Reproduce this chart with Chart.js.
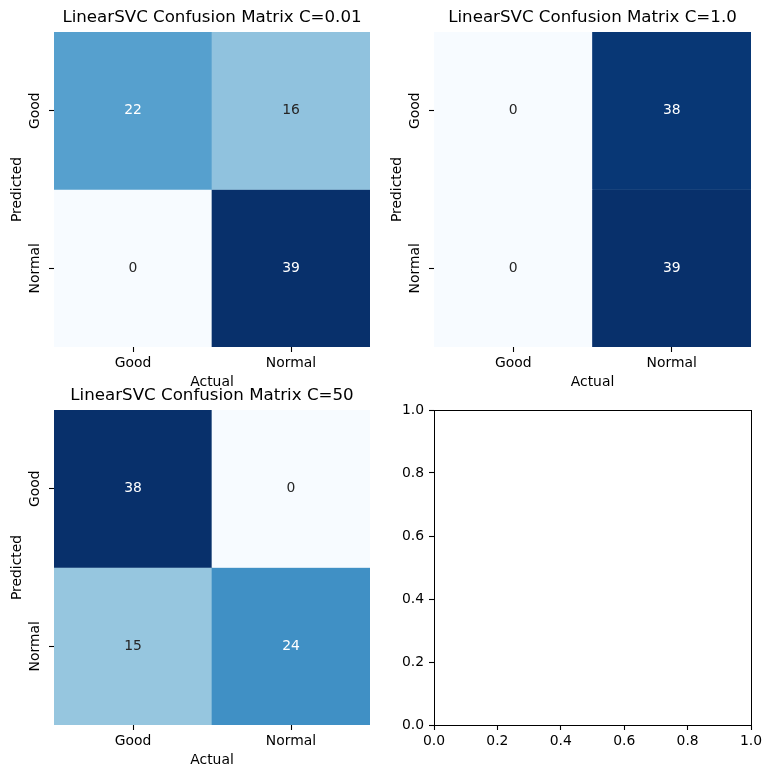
<!DOCTYPE html>
<html><head><meta charset="utf-8">
<script src="https://cdn.jsdelivr.net/npm/chart.js@4.4.0/dist/chart.umd.min.js"></script>
<style>
html,body{margin:0;padding:0;background:#fff;}
#wrap{position:relative;width:771px;height:778px;overflow:hidden;background:#fff;}
canvas{position:absolute;}
</style></head><body>
<div id="wrap">
<canvas id="c1" width="390" height="397" style="left:0px;top:0px"></canvas>
<canvas id="c2" width="391" height="397" style="left:380px;top:0px"></canvas>
<canvas id="c3" width="390" height="397" style="left:0px;top:378px"></canvas>
<canvas id="c4" width="391" height="397" style="left:380px;top:378px"></canvas>
</div>
<script>
// ---- data ----
const classLabels = ['Good', 'Normal'];
const xAxisTitle = 'Actual';
const yAxisTitle = 'Predicted';

const titleC001 = 'LinearSVC Confusion Matrix C=0.01';
const cmC001Good = [22, 16];
const cmC001Normal = [0, 39];

const titleC1 = 'LinearSVC Confusion Matrix C=1.0';
const cmC1Good = [0, 38];
const cmC1Normal = [0, 39];

const titleC50 = 'LinearSVC Confusion Matrix C=50';
const cmC50Good = [38, 0];
const cmC50Normal = [15, 24];

const emptyTicks = [0.0, 0.2, 0.4, 0.6, 0.8, 1.0];

// ---- styling helpers ----
Chart.defaults.font.family = 'DejaVu Sans';
Chart.defaults.color = '#000';
const TICK_FONT = {family: 'DejaVu Sans', size: 13.9, lineHeight: 1.2};
const TITLE_FONT = {family: 'DejaVu Sans', size: 16.67, weight: 'normal', lineHeight: 1.2};

const BLUES = ['#f7fbff','#deebf7','#c6dbef','#9ecae1','#6baed6','#4292c6','#2171b5','#08519c','#08306b'];
function hexToRgb(h){return [parseInt(h.slice(1,3),16),parseInt(h.slice(3,5),16),parseInt(h.slice(5,7),16)];}
function bluesRgb(t){
  t = Math.max(0, Math.min(1, t));
  const p = t * (BLUES.length - 1);
  const i = Math.min(Math.floor(p), BLUES.length - 2);
  const f = p - i;
  const a = hexToRgb(BLUES[i]), b = hexToRgb(BLUES[i+1]);
  return a.map((v,k)=>v + (b[k]-v)*f);
}
function rgbStr(c){return 'rgb(' + c.map(v=>Math.round(v)).join(',') + ')';}
function luminance(c){
  const lin = c.map(v=>{v/=255; return v <= 0.03928 ? v/12.92 : Math.pow((v+0.055)/1.055, 2.4);});
  return 0.2126*lin[0] + 0.7152*lin[1] + 0.0722*lin[2];
}

const annotatePlugin = {
  id: 'annotate',
  afterDatasetsDraw(chart){
    const ctx = chart.ctx;
    ctx.save();
    ctx.font = '13.9px "DejaVu Sans"';
    ctx.textAlign = 'center';
    ctx.textBaseline = 'middle';
    chart.data.datasets.forEach((ds, di) => {
      const meta = chart.getDatasetMeta(di);
      meta.data.forEach((bar, i) => {
        const p = bar.getCenterPoint();
        ctx.fillStyle = ds.textColors[i];
        ctx.fillText(String(ds.values[i]), p.x, p.y);
      });
    });
    ctx.restore();
  }
};

const framePlugin = {
  id: 'frame',
  afterDraw(chart){
    if (!chart.options.plugins.frame || !chart.options.plugins.frame.on) return;
    const a = chart.chartArea, ctx = chart.ctx;
    ctx.save();
    ctx.strokeStyle = '#000';
    ctx.lineWidth = 1;
    const l = Math.round(a.left) + 0.5, r = Math.round(a.right) + 0.5;
    const t = Math.round(a.top) + 0.5, b = Math.round(a.bottom) + 0.5;
    ctx.strokeRect(l, t, r - l, b - t);
    ctx.restore();
  }
};

function tickGrid(){
  return {display: true, drawOnChartArea: false, drawTicks: true, tickLength: 5, tickColor: '#000', tickWidth: 1.1, offset: false};
}

function makeHeatmap(id, title, rows, showXTitle){
  const all = rows.flat();
  const vmin = Math.min(...all), vmax = Math.max(...all);
  const datasets = rows.map((row, r) => {
    const cols = row.map(v => bluesRgb((v - vmin) / (vmax - vmin)));
    return {
      data: row.map(() => [r, r + 1]),
      values: row,
      backgroundColor: cols.map(rgbStr),
      textColors: cols.map(c => luminance(c) < 0.408 ? '#ffffff' : '#262626'),
      borderWidth: 0,
      barPercentage: 1,
      categoryPercentage: 1,
      grouped: false
    };
  });
  return new Chart(document.getElementById(id), {
    type: 'bar',
    data: {labels: classLabels, datasets},
    options: {
      responsive: false, animation: false, devicePixelRatio: 1,
      layout: {padding: {left: 0, right: 20, top: 0, bottom: 0}},
      plugins: {
        legend: {display: false}, tooltip: {enabled: false},
        title: {display: true, text: title, color: '#000', font: TITLE_FONT, padding: {top: 7.9, bottom: 4.1}, fullSize: false}
      },
      scales: {
        x: {
          type: 'category', offset: true,
          grid: tickGrid(), border: {display: false},
          ticks: {color: '#000', font: TICK_FONT, padding: 3, maxRotation: 0, minRotation: 0, autoSkip: false},
          title: {display: showXTitle, text: xAxisTitle, color: '#000', font: TICK_FONT, padding: {top: 0, bottom: 6}},
          afterFit: s => { s.height = 50; }
        },
        y: {
          type: 'linear', min: 0, max: rows.length, reverse: true,
          afterBuildTicks: s => { s.ticks = classLabels.map((l, i) => ({value: i + 0.5})); },
          grid: tickGrid(), border: {display: false},
          ticks: {color: '#000', font: TICK_FONT, callback: v => classLabels[Math.floor(v)], minRotation: 90, maxRotation: 90, crossAlign: 'center', padding: -12, autoSkip: false},
          title: {display: true, text: yAxisTitle, color: '#000', font: TICK_FONT, padding: {top: 9.5, bottom: 0}},
          afterFit: s => { s.width = 54; }
        }
      }
    },
    plugins: [annotatePlugin]
  });
}

makeHeatmap('c1', titleC001, [cmC001Good, cmC001Normal], true);
makeHeatmap('c2', titleC1, [cmC1Good, cmC1Normal], true);
makeHeatmap('c3', titleC50, [cmC50Good, cmC50Normal], true);

new Chart(document.getElementById('c4'), {
  type: 'scatter',
  data: {datasets: [{data: []}]},
  options: {
    responsive: false, animation: false, devicePixelRatio: 1,
    layout: {padding: {left: 0, right: 20, top: 32, bottom: 0}},
    plugins: {legend: {display: false}, tooltip: {enabled: false}, frame: {on: true}},
    scales: {
      x: {
        type: 'linear', min: 0, max: 1,
        afterBuildTicks: s => { s.ticks = emptyTicks.map(v => ({value: v})); },
        grid: {display: true, drawOnChartArea: false, drawTicks: true, tickLength: 5, tickColor: '#000', tickWidth: 1.1},
        border: {display: true, color: '#000', width: 1},
        ticks: {color: '#000', font: TICK_FONT, padding: 3, maxRotation: 0, minRotation: 0, autoSkip: false, callback: v => Number(v).toFixed(1)},
        afterFit: s => { s.height = 50; }
      },
      y: {
        type: 'linear', min: 0, max: 1,
        afterBuildTicks: s => { s.ticks = emptyTicks.map(v => ({value: v})); },
        grid: {display: true, drawOnChartArea: false, drawTicks: true, tickLength: 5, tickColor: '#000', tickWidth: 1.1},
        border: {display: true, color: '#000', width: 1},
        ticks: {color: '#000', font: TICK_FONT, padding: 5, autoSkip: false, callback: v => Number(v).toFixed(1)},
        afterFit: s => { s.width = 54; }
      }
    }
  },
  plugins: [framePlugin]
});
</script>
</body></html>
